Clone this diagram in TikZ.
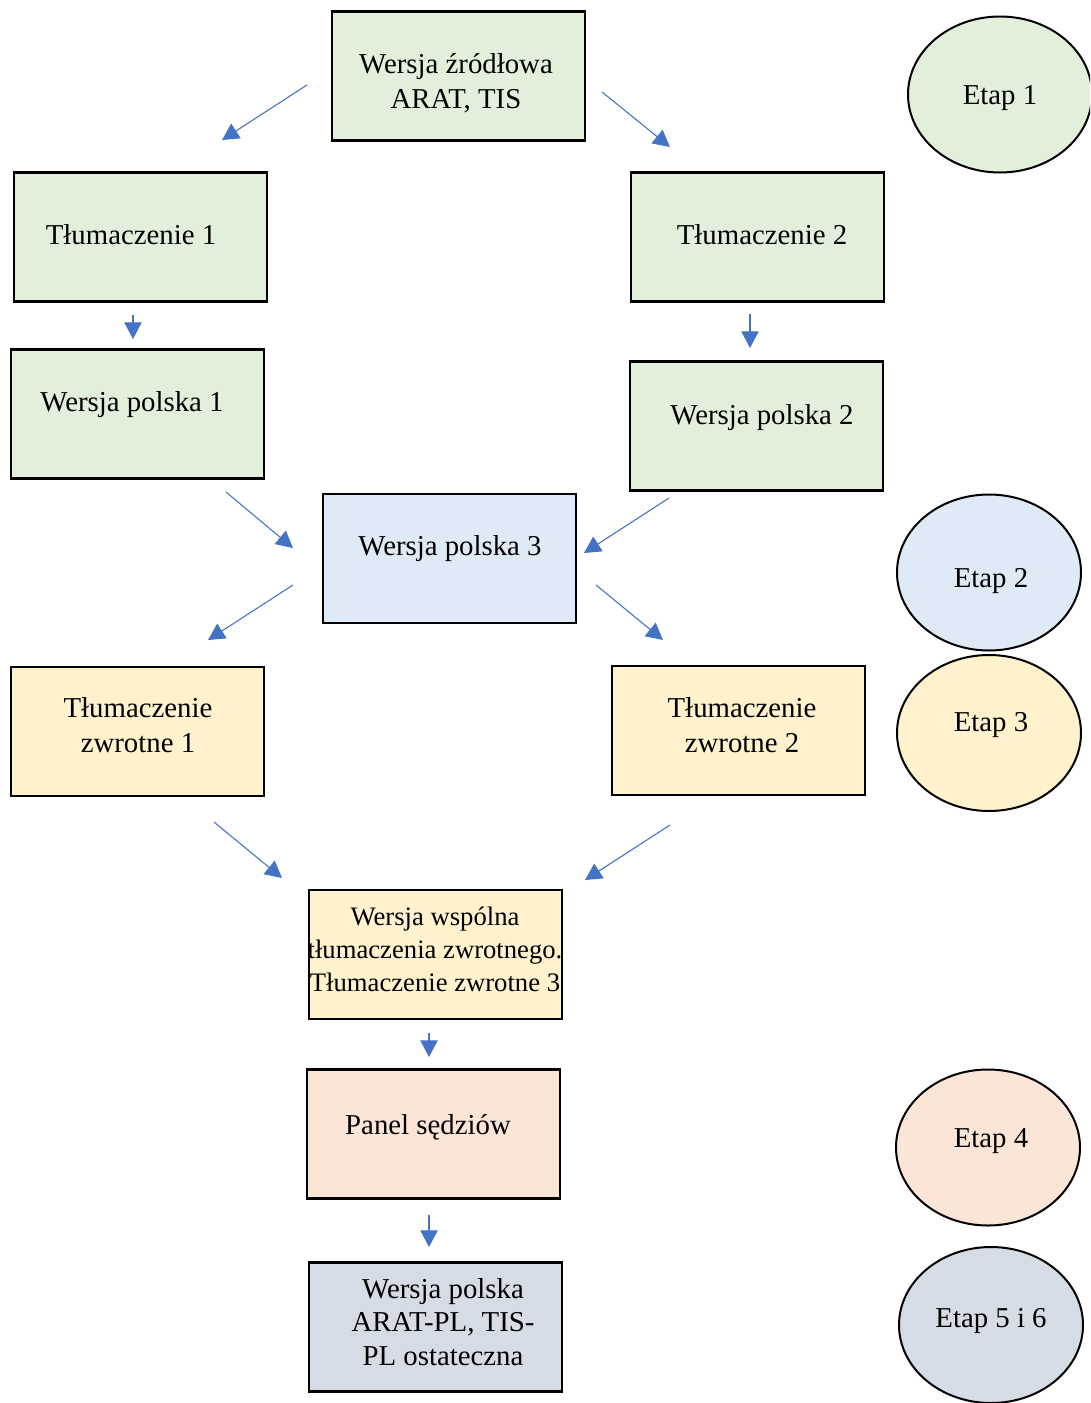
\documentclass[tikz,border=0pt]{standalone}
\usepackage{fontspec}
\setmainfont{Liberation Serif}
\usetikzlibrary{arrows.meta,shapes.geometric}
\definecolor{cgreen}{HTML}{E2EFDA}
\definecolor{cblue}{HTML}{DEEBF7}
\definecolor{cyellow}{HTML}{FFF2CC}
\definecolor{cpeach}{HTML}{FBE5D6}
\definecolor{cgray}{HTML}{D6DCE5}
\definecolor{carrow}{HTML}{4472C4}
\tikzset{
  box/.style={draw=black, line width=1.8pt, rectangle, minimum width=253*0.75pt, minimum height=129*0.75pt, inner sep=0pt},
  stage/.style={draw=black, line width=1.5pt, ellipse, minimum width=184*0.75pt, minimum height=156*0.75pt, inner sep=0pt},
  txt/.style={anchor=base, align=center, inner sep=0pt, font=\fontsize{21.6pt}{25.8pt}\selectfont},
  smalltxt/.style={anchor=base, align=center, inner sep=0pt, font=\fontsize{20pt}{24.4pt}\selectfont},
  fintxt/.style={anchor=base, align=center, inner sep=0pt, font=\fontsize{21.6pt}{24.8pt}\selectfont},
  arr/.style={draw=carrow, line width=0.8pt, -{Triangle[length=12.5pt,width=13pt]}}
}
\begin{document}
\begin{tikzpicture}[x=0.75pt,y=-0.75pt]
\useasboundingbox (0,0) rectangle (1090,1403);
\clip (0,0) rectangle (1090,1403);
\fill[white] (0,0) rectangle (1090,1403);

% boxes
\node[box, fill=cgreen] (src) at (458.5,76) {};
\node[box, fill=cgreen] (t1) at (140.5,237) {};
\node[box, fill=cgreen] (t2) at (757.5,237) {};
\node[box, fill=cgreen] (wp1) at (137.5,414) {};
\node[box, fill=cgreen] (wp2) at (756.5,426) {};
\node[box, fill=cblue] (wp3) at (449.5,558.5) {};
\node[box, fill=cyellow] (tz1) at (137.5,731.5) {};
\node[box, fill=cyellow] (tz2) at (738.5,730.5) {};
\node[box, fill=cyellow] (ws) at (435.5,954.5) {};
\node[box, fill=cpeach] (panel) at (433.5,1134) {};
\node[box, fill=cgray] (fin) at (435.5,1327) {};

% box texts (base anchor = baseline of last line)
\node[txt] (srcT) at (456,108) {Wersja źródłowa\\ARAT, TIS};
\node[txt] (t1T) at (131,244) {Tłumaczenie 1};
\node[txt] (t2T) at (762,244) {Tłumaczenie 2};
\node[txt] (wp1T) at (132,411) {Wersja polska 1};
\node[txt] (wp2T) at (762,424) {Wersja polska 2};
\node[txt] (wp3T) at (450,555) {Wersja polska 3};
\node[txt] (tz1T) at (138,752) {Tłumaczenie\\zwrotne 1};
\node[txt] (tz2T) at (742,752) {Tłumaczenie\\zwrotne 2};
\node[smalltxt] (wsT) at (435,991) {Wersja wspólna\\tłumaczenia zwrotnego.\\Tłumaczenie zwrotne 3};
\node[txt] (panelT) at (428,1134) {Panel sędziów};
\node[fintxt] (finT) at (443,1365) {Wersja polska\\ARAT-PL, TIS-\\PL ostateczna};

% stages
\node[stage, fill=cgreen] (e1) at (1000,94.5) {};
\node[stage, fill=cblue] (e2) at (989,572.5) {};
\node[stage, fill=cyellow] (e3) at (989,733) {};
\node[stage, fill=cpeach] (e4) at (988,1147.5) {};
\node[stage, fill=cgray] (e5) at (991,1325) {};
\node[txt] (e1T) at (1000,104) {Etap 1};
\node[txt] (e2T) at (991,587) {Etap 2};
\node[txt] (e3T) at (991,731) {Etap 3};
\node[txt] (e4T) at (991,1147) {Etap 4};
\node[txt] (e5T) at (991,1327) {Etap 5 i 6};

% arrow end points
\coordinate (a1s) at (307,85);   \coordinate (a1e) at (222,140);
\coordinate (a2s) at (602,92);   \coordinate (a2e) at (670,147);
\coordinate (a3s) at (133,315);  \coordinate (a3e) at (133,339);
\coordinate (a4s) at (750,314);  \coordinate (a4e) at (750,348);
\coordinate (a5s) at (226,492);  \coordinate (a5e) at (293,548);
\coordinate (a6s) at (669,498);  \coordinate (a6e) at (584,553);
\coordinate (a7s) at (293,585);  \coordinate (a7e) at (208,640);
\coordinate (a8s) at (596,585);  \coordinate (a8e) at (663,640);
\coordinate (a9s) at (214,822);  \coordinate (a9e) at (282,878);
\coordinate (a10s) at (670,825); \coordinate (a10e) at (585,880);
\coordinate (a11s) at (429,1033);\coordinate (a11e) at (429,1057);
\coordinate (a12s) at (429,1215);\coordinate (a12e) at (429,1247);

\foreach \i in {1,...,12} { \draw[arr] (a\i s) -- (a\i e); }
\end{tikzpicture}
\end{document}
